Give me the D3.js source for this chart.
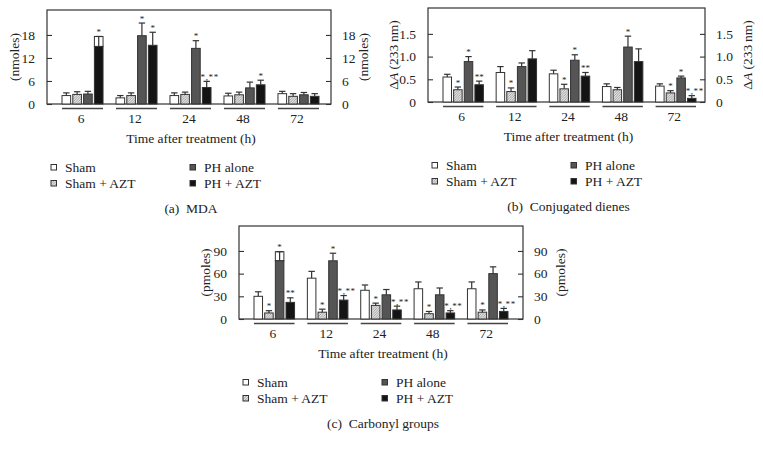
<!DOCTYPE html>
<html><head><meta charset="utf-8">
<script src="https://cdn.jsdelivr.net/npm/d3@7"></script>
<style>
html,body{margin:0;padding:0;background:#fff;}
text{font-family:"Liberation Serif","DejaVu Serif",serif;fill:#222;}
</style></head>
<body><svg id="c" width="763" height="450"></svg>
<script>
// ---- data ----
const times = ["6", "12", "24", "48", "72"];
const series = ["Sham", "Sham + AZT", "PH alone", "PH + AZT"];
const xTitle = "Time after treatment (h)";

// (a) MDA (nmoles)
const mdaSham      = [2.2, 1.6, 2.2, 2.1, 2.7];
const mdaShamSE    = [0.7, 0.6, 0.7, 0.7, 0.6];
const mdaShamAZT   = [2.5, 2.2, 2.5, 2.4, 2.0];
const mdaShamAZTSE = [0.7, 0.7, 0.6, 0.7, 0.7];
const mdaPH        = [2.6, 17.8, 14.5, 4.2, 2.4];
const mdaPHSE      = [0.7, 3.3, 2.0, 1.5, 0.6];
const mdaPHAZT     = [15.0, 15.3, 4.3, 5.0, 2.0];
const mdaPHAZTSE   = [2.6, 3.4, 1.6, 1.2, 0.7];
const mdaSig = [["", "", "", "", ""], ["", "", "", "", ""], ["", "*", "*", "", ""], ["*", "*", "*,**", "*", ""]];
const mdaTicks = [0, 6, 12, 18];

// (b) Conjugated dienes (ΔA 233 nm)
const cdSham      = [0.55, 0.65, 0.62, 0.34, 0.35];
const cdShamSE    = [0.06, 0.13, 0.08, 0.06, 0.05];
const cdShamAZT   = [0.27, 0.23, 0.29, 0.27, 0.20];
const cdShamAZTSE = [0.06, 0.08, 0.10, 0.05, 0.05];
const cdPH        = [0.89, 0.78, 0.92, 1.21, 0.53];
const cdPHSE      = [0.11, 0.08, 0.12, 0.24, 0.04];
const cdPHAZT     = [0.38, 0.95, 0.57, 0.89, 0.08];
const cdPHAZTSE   = [0.08, 0.18, 0.08, 0.28, 0.06];
const cdSig = [["", "", "", "", ""], ["*", "*", "*", "", "*"], ["*", "", "*", "*", "*"], ["**", "", "**", "", "*,**"]];
const cdTicks = [0, 0.5, 1.0, 1.5];

// (c) Carbonyl groups (pmoles)
const cgSham      = [30, 54, 38, 40, 40];
const cgShamSE    = [6, 9, 7, 9, 9];
const cgShamAZT   = [8, 9, 18, 7, 9];
const cgShamAZTSE = [3, 4, 3, 3, 3];
const cgPH        = [77, 77, 32, 32, 60];
const cgPHSE      = [12, 10, 7, 9, 9];
const cgPHAZT     = [22, 25, 12, 8, 10];
const cgPHAZTSE   = [6, 6, 5, 3, 4];
const cgSig = [["", "", "", "", ""], ["*", "*", "*", "*", "*"], ["*", "*", "", "", ""], ["**", "*,**", "*,**", "*,**", "*,**"]];
const cgTicks = [0, 30, 60, 90];

// ---- drawing ----
const svg = d3.select("#c");
const defs = svg.append("defs");
const pat = defs.append("pattern").attr("id", "hatch").attr("patternUnits", "userSpaceOnUse")
  .attr("width", 2.5).attr("height", 2.5);
pat.append("rect").attr("width", 2.5).attr("height", 2.5).attr("fill", "#e2e2e2");
pat.append("path").attr("d", "M-0.5,0.5 l1,-1 M0,2.5 l2.5,-2.5 M2,3 l1,-1").attr("stroke", "#8a8a8a").attr("stroke-width", 0.7);

const fills = ["#ffffff", "url(#hatch)", "#555555", "#141414"];
const ink = "#333";

const panels = [
  { L: 47, R: 331, T: 10, B: 104, ymax: 24.5, padL: 15, padR: 12, ticks: mdaTicks, fmt: d => String(d),
    ylab: "(nmoles)", ylOffL: 33, ylOffR: 32, caption: "(a)  MDA",
    means: [mdaSham, mdaShamAZT, mdaPH, mdaPHAZT], ses: [mdaShamSE, mdaShamAZTSE, mdaPHSE, mdaPHAZTSE], sig: mdaSig,
    boxed: [[3, 0]] },
  { L: 428, R: 705, T: 8, B: 102, ymax: 2.07, padL: 15, padR: 9, ticks: cdTicks, fmt: d => d === 0 ? "0" : d.toFixed(1),
    ylab: "dA", ylOffL: 35, ylOffR: 42, caption: "(b)  Conjugated dienes",
    means: [cdSham, cdShamAZT, cdPH, cdPHAZT], ses: [cdShamSE, cdShamAZTSE, cdPHSE, cdPHAZTSE], sig: cdSig,
    boxed: [] },
  { L: 239, R: 523, T: 226, B: 319, ymax: 123, padL: 15, padR: 15, ticks: cgTicks, fmt: d => String(d),
    ylab: "(pmoles)", ylOffL: 34, ylOffR: 37, caption: "(c)  Carbonyl groups",
    means: [cgSham, cgShamAZT, cgPH, cgPHAZT], ses: [cgShamSE, cgShamAZTSE, cgPHSE, cgPHAZTSE], sig: cgSig,
    boxed: [[2, 0]] }
];

function ylabel(g, p, x) {
  const t = g.append("text").attr("transform", `translate(${x},${(p.T + p.B) / 2}) rotate(-90)`)
    .attr("text-anchor", "middle").attr("dy", "0.35em").attr("font-size", 13.5);
  if (p.ylab === "dA") {
    t.append("tspan").text("\u0394");
    t.append("tspan").attr("font-style", "italic").text("A");
    t.append("tspan").text(" (233\u2009nm)");
  } else t.text(p.ylab);
}

panels.forEach(p => {
  const g = svg.append("g");
  const x0 = d3.scaleBand().domain(times).range([p.L + p.padL, p.R - p.padR]).paddingInner(0.24).paddingOuter(0);
  const x1 = d3.scaleBand().domain(series).range([0, x0.bandwidth()]).paddingInner(0.2).paddingOuter(0);
  const y = d3.scaleLinear().domain([0, p.ymax]).range([p.B, p.T]);

  // frame + axes (ticks inward)
  const axL = d3.axisLeft(y).tickValues(p.ticks).tickFormat(p.fmt).tickSizeInner(-5).tickSizeOuter(0).tickPadding(12);
  const axR = d3.axisRight(y).tickValues(p.ticks).tickFormat(p.fmt).tickSizeInner(-5).tickSizeOuter(0).tickPadding(11);
  const gl = g.append("g").attr("transform", `translate(${p.L},0)`).call(axL);
  const gr = g.append("g").attr("transform", `translate(${p.R},0)`).call(axR);
  [gl, gr].forEach(a => {
    a.select(".domain").remove();
    a.selectAll(".tick line").attr("stroke", ink).attr("stroke-width", 1.1);
    a.selectAll(".tick text").attr("font-size", 13.5).attr("fill", "#222")
      .attr("font-family", '"Liberation Serif","DejaVu Serif",serif');
  });
  g.append("rect").attr("x", p.L).attr("y", p.T).attr("width", p.R - p.L).attr("height", p.B - p.T)
    .attr("fill", "none").attr("stroke", ink).attr("stroke-width", 1.2);

  // bars
  series.forEach((s, si) => {
    times.forEach((t, ti) => {
      const v = p.means[si][ti], e = p.ses[si][ti];
      const bx = x0(t) + x1(s), bw = x1.bandwidth(), cx = bx + bw / 2;
      const isBoxed = p.boxed.some(b => b[0] === si && b[1] === ti);
      if (isBoxed) {
        g.append("rect").attr("x", bx).attr("y", y(v + e)).attr("width", bw).attr("height", y(v) - y(v + e))
          .attr("fill", "#fff").attr("stroke", ink).attr("stroke-width", 1);
      }
      g.append("rect").attr("x", bx).attr("y", y(v)).attr("width", bw).attr("height", y(0) - y(v))
        .attr("fill", fills[si]).attr("stroke", ink).attr("stroke-width", 1);
      // error bar (upper)
      g.append("line").attr("x1", cx).attr("x2", cx).attr("y1", y(v)).attr("y2", y(v + e))
        .attr("stroke", ink).attr("stroke-width", 1.2);
      g.append("line").attr("x1", cx - 3.2).attr("x2", cx + 3.2).attr("y1", y(v + e)).attr("y2", y(v + e))
        .attr("stroke", ink).attr("stroke-width", 1.2);
      const sg = p.sig[si][ti];
      if (sg) {
        g.append("text").attr("x", cx + (sg.length > 2 ? 3 : 0)).attr("y", y(v + e) - 1.5).attr("text-anchor", "middle")
          .attr("font-size", 9).attr("letter-spacing", sg.length > 2 ? 0.6 : 0).attr("fill", "#444").text(sg);
      }
    });
  });

  // group underlines and labels
  times.forEach(t => {
    g.append("line").attr("x1", x0(t)).attr("x2", x0(t) + x0.bandwidth()).attr("y1", p.B + 4.5).attr("y2", p.B + 4.5)
      .attr("stroke", "#444").attr("stroke-width", 1.3);
    g.append("text").attr("x", x0(t) + x0.bandwidth() / 2 - 1.5).attr("y", p.B + 14).attr("dy", "0.35em")
      .attr("text-anchor", "middle").attr("font-size", 13.5).text(t);
  });

  // axis titles
  ylabel(g, p, p.L - p.ylOffL);
  ylabel(g, p, p.R + p.ylOffR);
  const cxm = (p.L + p.R) / 2 + 2;
  g.append("text").attr("x", cxm).attr("y", p.B + 34).attr("dy", "0.35em").attr("text-anchor", "middle")
    .attr("font-size", 13.5).text(xTitle);

  // legend
  const lx = [p.L + 4, p.L + 4, p.L + 143, p.L + 143];
  const ly = [p.B + 63, p.B + 79, p.B + 63, p.B + 79];
  series.forEach((s, si) => {
    g.append("rect").attr("x", lx[si]).attr("y", ly[si] - 2.5).attr("width", 5.5).attr("height", 5.5)
      .attr("fill", fills[si]).attr("stroke", ink).attr("stroke-width", 1);
    g.append("text").attr("x", lx[si] + 14).attr("y", ly[si]).attr("dy", "0.35em").attr("font-size", 13.5).text(s);
  });

  g.append("text").attr("x", cxm).attr("y", p.B + 104).attr("dy", "0.35em").attr("text-anchor", "middle")
    .attr("font-size", 13.5).attr("xml:space", "preserve").text(p.caption);
});
</script></body></html>
